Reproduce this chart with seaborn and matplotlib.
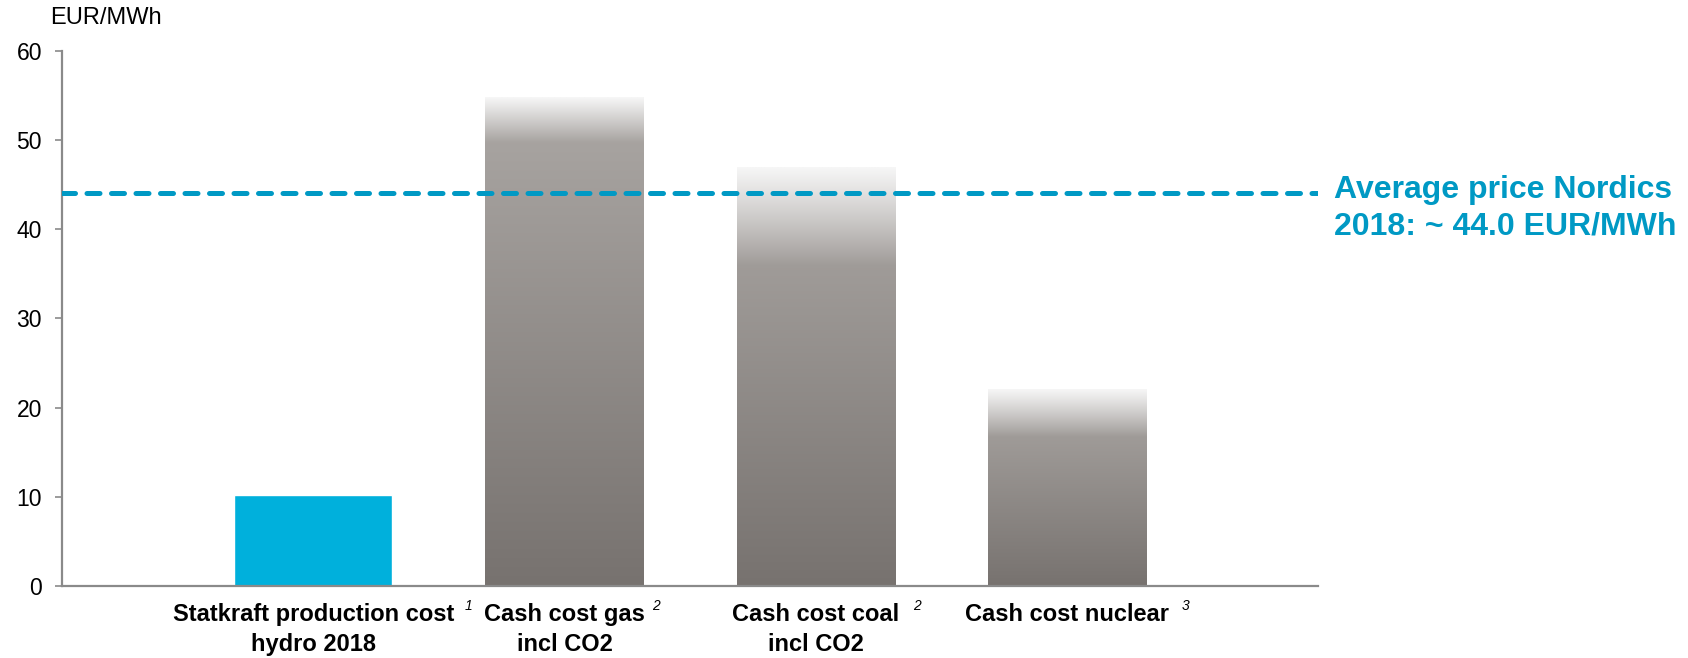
import numpy as np
import pandas as pd
import matplotlib
matplotlib.use("Agg")
import matplotlib.pyplot as plt
import matplotlib.transforms as mtransforms
from matplotlib.colors import to_rgb
import seaborn as sns

# ---- data ----
categories = [
    "Statkraft production cost\nhydro 2018",
    "Cash cost gas\nincl CO2",
    "Cash cost coal\nincl CO2",
    "Cash cost nuclear",
]
footnotes = ["1", "2", "2", "3"]
costs = [10.2, 54.8, 46.9, 22.0]
nordic_avg = 44.0
y_ticks = [0, 10, 20, 30, 40, 50, 60]
unit_label = "EUR/MWh"
avg_label = "Average price Nordics\n2018: ~ 44.0 EUR/MWh"

# ---- style ----
BLUE = "#00b0dc"
LINE_BLUE = "#0099c4"
GREY_DARK = "#77726f"
GREY_LIGHT = "#aca8a5"
FADE_TOP = "#f6f6f6"
fade_depth = [0, 5.0, 11.0, 5.3]      # depth of the whitening at bar tops (data units)
sup_gap = [11, 7, 14, 13]             # pixel gap between label and footnote mark

sns.set_theme(style="white")
plt.rcParams["font.family"] = ["Liberation Sans", "DejaVu Sans"]

fig = plt.figure(figsize=(16.88, 6.58), dpi=100)
ax = fig.add_axes([0.0367, 0.1094, 0.7443, 0.8136])

df = pd.DataFrame({"category": categories, "cost": costs})
palette = [BLUE] + [GREY_DARK] * (len(categories) - 1)
sns.barplot(data=df, x="category", y="cost", hue="category", palette=palette,
            legend=False, width=0.63, ax=ax, saturation=1)

# vertical grey gradient with faded top for the thermal bars
c_dark = np.array(to_rgb(GREY_DARK))
c_light = np.array(to_rgb(GREY_LIGHT))
c_top = np.array(to_rgb(FADE_TOP))
for i, patch in enumerate(ax.patches):
    if i == 0:
        continue
    x0, w, h = patch.get_x(), patch.get_width(), patch.get_height()
    ys = np.linspace(0, h, 400)
    t = ys / h
    cols = c_dark[None, :] * (1 - t[:, None]) + c_light[None, :] * t[:, None]
    d = fade_depth[i]
    f = np.clip((ys - (h - d)) / d, 0, 1)
    cols = cols * (1 - f[:, None]) + c_top[None, :] * f[:, None]
    img = cols[:, None, :]
    ax.imshow(img, extent=[x0, x0 + w, 0, h], origin="lower", aspect="auto",
              interpolation="bilinear", zorder=patch.get_zorder())
    patch.set_facecolor("none")
    patch.set_edgecolor("none")

ax.set_xlim(-1, len(categories))
ax.set_ylim(0, 60)
ax.set_yticks(y_ticks)
ax.set_xlabel("")
ax.set_ylabel("")

# average price reference line
ax.axhline(nordic_avg, color=LINE_BLUE, lw=3.6, ls=(0, (2.6, 2.3)),
           dash_capstyle="round", zorder=5)
blend = mtransforms.blended_transform_factory(ax.transAxes, ax.transData)
ax.annotate(avg_label, xy=(1, nordic_avg), xycoords=blend,
            xytext=(11.5, -11), textcoords="offset points",
            ha="left", va="center", fontsize=23, fontweight="bold",
            color=LINE_BLUE, linespacing=1.28, annotation_clip=False)

# axes styling
for side in ["top", "right"]:
    ax.spines[side].set_visible(False)
for side in ["left", "bottom"]:
    ax.spines[side].set_color("#8a8a8a")
    ax.spines[side].set_linewidth(1.6)
ax.tick_params(axis="y", left=True, length=5, width=1.2, color="#8a8a8a",
               labelsize=16.5, pad=9.4, labelcolor="black")
ax.tick_params(axis="x", bottom=False, length=0, pad=12, labelsize=17)
for lab in ax.get_xticklabels():
    lab.set_fontweight("bold")
    lab.set_color("black")
    lab.set_linespacing(1.4)

fig.text(50 / 1688, 1 - 18 / 658, unit_label, ha="left", va="center",
         fontsize=17, color="black")

# footnote marks after each category label
fig.canvas.draw()
renderer = fig.canvas.get_renderer()
for lab, note, gap in zip(ax.get_xticklabels(), footnotes, sup_gap):
    bb = lab.get_window_extent(renderer)
    ax.annotate(note, xy=(bb.x1, bb.y1), xycoords="figure pixels",
                xytext=(gap, 4), textcoords="offset pixels",
                ha="left", va="top", fontsize=10, fontstyle="italic",
                color="black", annotation_clip=False)

fig.savefig("out.png", dpi=100)
